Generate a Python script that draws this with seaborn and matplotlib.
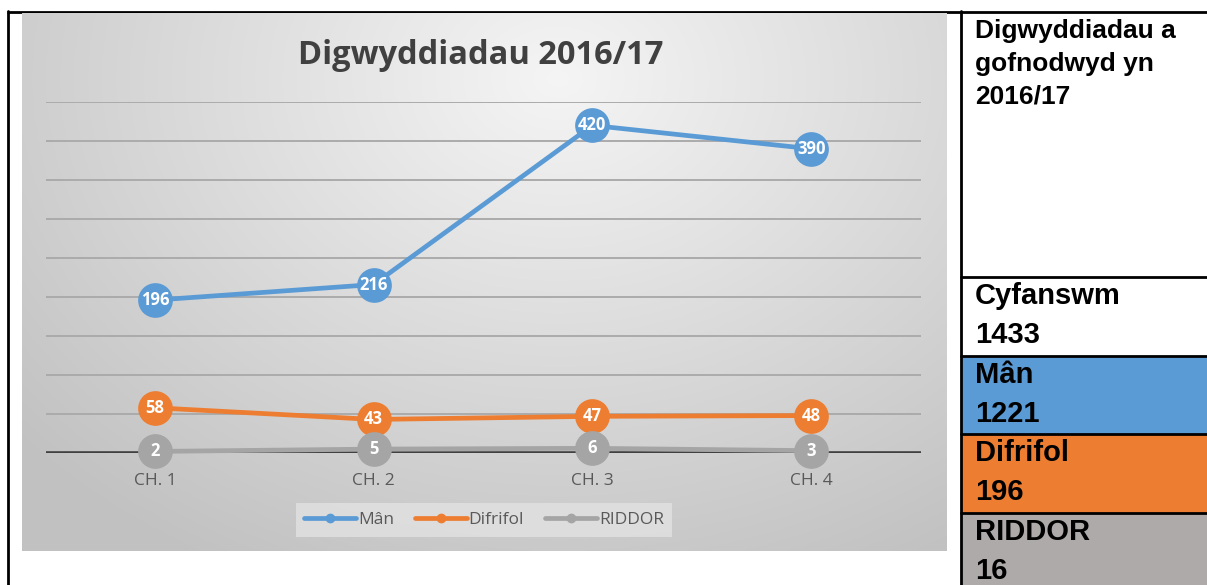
import numpy as np
import pandas as pd
import seaborn as sns
import matplotlib
matplotlib.use("Agg")
from matplotlib import pyplot as plt
from matplotlib.lines import Line2D
from matplotlib.patches import Rectangle

# chart data
quarters = ["CH. 1", "CH. 2", "CH. 3", "CH. 4"]
man = [196, 216, 420, 390]
difrifol = [58, 43, 47, 48]
riddor = [2, 5, 6, 3]
series_names = ["Mân", "Difrifol", "RIDDOR"]
series_colors = ["#5B9BD5", "#ED7D31", "#A5A5A5"]

# side table
header_lines = ["Digwyddiadau a", "gofnodwyd yn", "2016/17"]
summary_labels = ["Cyfanswm", "Mân", "Difrifol", "RIDDOR"]
summary_values = [1433, 1221, 196, 16]
summary_fills = ["white", "#5B9BD5", "#ED7D31", "#AEAAAA"]

W, H = 1207, 585

df = pd.DataFrame({
    "quarter": quarters * 3,
    "value": man + difrifol + riddor,
    "series": [s for s in series_names for _ in quarters],
})

sns.set_style("white")
plt.rcParams["font.family"] = ["Open Sans", "DejaVu Sans"]

fig = plt.figure(figsize=(W / 100, H / 100), dpi=100)

# table lines / cells, drawn in pixel coords
tab = fig.add_axes([0, 0, 1, 1], zorder=0)
tab.set_xlim(0, W)
tab.set_ylim(H, 0)
tab.axis("off")
cell_tops = [277, 356, 434, 513]
cell_bots = [356, 434, 513, H + 5]
for top, bot, fc in zip(cell_tops, cell_bots, summary_fills):
    tab.add_patch(Rectangle((961, top), W - 961 + 5, bot - top, facecolor=fc, edgecolor="none"))
lw = 2.0
tab.plot([7, W], [12, 12], color="black", lw=lw, solid_capstyle="butt")
tab.plot([8, 8], [11, H], color="black", lw=lw)
tab.plot([961, 961], [11, H], color="black", lw=lw)
for y in cell_tops:
    tab.plot([961, W], [y, y], color="black", lw=lw)
for i, line in enumerate(header_lines):
    tab.text(975, 31 + 33 * i, line, fontsize=19, fontweight="bold", family="Liberation Sans",
             va="center", ha="left", color="black")
for i, (lab, val) in enumerate(zip(summary_labels, summary_values)):
    top = cell_tops[i]
    tab.text(975, top + 19, lab, fontsize=21, fontweight="bold", family="Liberation Sans",
             va="center", ha="left", color="black")
    tab.text(975, top + 58, str(val), fontsize=21, fontweight="bold", family="Liberation Sans",
             va="center", ha="left", color="black")

# chart background gradient
bx0, by0, bx1, by1 = 22, 13, 946, 551
bg = fig.add_axes([bx0 / W, (H - by1) / H, (bx1 - bx0) / W, (by1 - by0) / H], zorder=0.5)
gx, gy = np.meshgrid(np.linspace(0, 1, 300), np.linspace(0, 1, 200))
r = np.sqrt(((gx - 0.58) * 1.0) ** 2 + ((gy - 0.12) * 0.75) ** 2)
shade = np.clip(0.96 - 0.26 * r, 0.76, 0.96)
bg.imshow(np.dstack([shade] * 3), aspect="auto", extent=[0, 1, 1, 0])
bg.axis("off")

# main plot area: x -0.5..3.5 -> px 45.5..920.5, y 0..450 -> px 453..102
ax = fig.add_axes([45.5 / W, (H - 453) / H, 875 / W, 351 / H], zorder=1)
ax.patch.set_alpha(0)
ax.set_yticks(np.arange(50, 451, 50))
ax.yaxis.grid(True, color="#ababab", lw=1.4)
ax.set_axisbelow(True)

sns.lineplot(data=df, x="quarter", y="value", hue="series", hue_order=series_names,
             palette=series_colors, marker="o", markersize=25, markeredgewidth=0,
             linewidth=3.4, sort=False, legend=False, ax=ax, zorder=3)
for ln in ax.lines:
    ln.set_clip_on(False)
ax.axhline(0, color="#404040", lw=2.6, zorder=2)

ax.set_xlim(-0.5, 3.5)
ax.set_ylim(0, 450)
for s in ax.spines.values():
    s.set_visible(False)
ax.tick_params(axis="y", left=False, labelleft=False)
ax.tick_params(axis="x", bottom=False, labelsize=12.5, labelcolor="#595959", pad=11)
ax.set_xlabel("")
ax.set_ylabel("")

for vals in [man, difrifol, riddor]:
    for i, v in enumerate(vals):
        ax.text(i, v, str(v), color="white", fontsize=12, fontweight="bold",
                ha="center", va="center", zorder=5, clip_on=False)

fig.text(481 / W, 1 - 55 / H, "Digwyddiadau 2016/17", fontsize=23.5, fontweight="bold",
         color="#404040", ha="center", va="center", zorder=2)

handles = [Line2D([0], [0], color=c, lw=3.4, marker="o", markersize=6) for c in series_colors]
leg = fig.legend(handles, series_names, loc="center", bbox_to_anchor=(484 / W, 1 - 520 / H),
                 ncol=3, frameon=True, fontsize=12.5, handlelength=3.0, handletextpad=0.1,
                 columnspacing=1.2, borderpad=0.5, labelcolor="#595959")
leg.get_frame().set_facecolor("#e2e2e2")
leg.get_frame().set_edgecolor("none")
leg.get_frame().set_boxstyle("square", pad=0)
leg.set_zorder(3)

fig.savefig("out.png", dpi=100)
